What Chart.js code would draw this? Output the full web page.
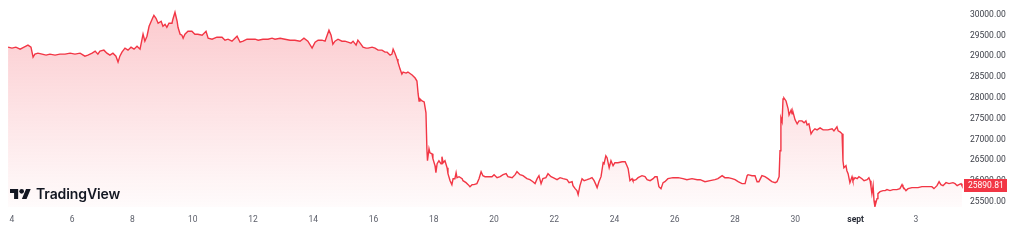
<!DOCTYPE html>
<html>
<head>
<meta charset="utf-8">
<title>BTC chart</title>
<script src="https://cdn.jsdelivr.net/npm/chart.js@4.4.0/dist/chart.umd.min.js"></script>
<style>
  html,body{margin:0;padding:0;background:#fff;overflow:hidden}
  #wrap{position:relative;width:1024px;height:243px}
  #logo{position:absolute;left:10px;top:187px;display:flex;align-items:center;gap:5px;
    font-family:Inter,"Noto Sans",sans-serif;font-weight:600;font-size:14px;line-height:14px;color:#131722;letter-spacing:-0.1px}
  #logo svg{display:block}
</style>
</head>
<body>
<div id="wrap">
  <canvas id="c" width="1024" height="243"></canvas>
  <div id="logo">
    <svg width="21" height="10.5" viewBox="0 4 36 18"><path fill="#131722" d="M14 22H7V11H0V4h14v18zM28 22h-8l7.5-18h8L28 22z"/><circle fill="#131722" cx="20" cy="8" r="4"/></svg>
    <span>TradingView</span>
  </div>
</div>
<script>
// time in days of August (32 = 1 sept), close price
const times = [
  3.87,4.00,4.13,4.27,4.40,4.53,4.63,4.70,4.76,4.86,5.00,5.13,5.26,5.43,5.59,5.76,5.93,6.09,6.26,6.42,
  6.52,6.66,6.76,6.85,6.92,7.05,7.15,7.25,7.35,7.45,7.52,7.58,7.65,7.75,7.85,7.95,8.05,8.15,8.25,8.35,
  8.41,8.48,8.55,8.65,8.71,8.78,8.85,8.95,9.01,9.08,9.14,9.21,9.31,9.34,9.41,9.48,9.51,9.58,9.64,9.68,
  9.74,9.84,9.97,10.07,10.17,10.31,10.44,10.51,10.64,10.80,10.97,11.07,11.17,11.30,11.40,11.47,11.57,11.67,11.80,11.97,
  12.07,12.17,12.33,12.50,12.63,12.73,12.90,13.06,13.23,13.39,13.56,13.69,13.82,13.96,14.06,14.16,14.29,14.39,14.46,14.52,
  14.59,14.65,14.72,14.82,14.95,15.05,15.15,15.25,15.32,15.42,15.48,15.58,15.65,15.75,15.82,15.95,16.05,16.15,16.28,16.38,
  16.45,16.55,16.61,16.65,16.71,16.78,16.81,16.88,16.94,16.98,17.08,17.14,17.28,17.38,17.44,17.48,17.51,17.54,17.61,17.68,
  17.74,17.77,17.79,17.84,17.87,17.94,17.97,18.04,18.07,18.11,18.17,18.24,18.27,18.31,18.37,18.44,18.47,18.54,18.60,18.64,
  18.70,18.74,18.77,18.84,18.94,18.97,19.07,19.14,19.20,19.27,19.33,19.43,19.50,19.57,19.63,19.70,19.80,19.93,20.00,20.10,
  20.20,20.30,20.40,20.46,20.60,20.70,20.76,20.86,20.96,21.09,21.19,21.29,21.36,21.43,21.49,21.56,21.62,21.72,21.79,21.89,
  21.96,22.09,22.19,22.29,22.42,22.49,22.59,22.62,22.69,22.75,22.79,22.85,22.92,22.99,23.09,23.18,23.25,23.32,23.38,23.42,
  23.48,23.55,23.62,23.65,23.71,23.75,23.82,23.88,23.95,24.01,24.11,24.25,24.35,24.41,24.45,24.51,24.58,24.61,24.71,24.78,
  24.91,25.01,25.08,25.18,25.28,25.34,25.41,25.47,25.54,25.61,25.67,25.77,25.94,26.11,26.27,26.40,26.57,26.74,26.84,27.00,
  27.17,27.33,27.43,27.57,27.66,27.77,27.90,28.00,28.10,28.23,28.33,28.40,28.43,28.56,28.66,28.73,28.79,28.89,28.99,29.09,
  29.22,29.33,29.39,29.46,29.49,29.52,29.56,29.59,29.62,29.69,29.72,29.76,29.79,29.86,29.89,29.92,29.99,30.06,30.12,30.22,
  30.29,30.35,30.39,30.45,30.52,30.58,30.65,30.72,30.82,30.92,30.98,31.08,31.22,31.28,31.38,31.42,31.48,31.55,31.58,31.61,
  31.68,31.71,31.75,31.81,31.88,31.91,31.98,32.05,32.11,32.21,32.28,32.38,32.44,32.48,32.51,32.54,32.58,32.61,32.64,32.71,
  32.74,32.81,32.91,32.98,33.04,33.14,33.24,33.37,33.47,33.54,33.57,33.67,33.74,33.87,33.97,34.07,34.20,34.30,34.40,34.53,
  34.60,34.70,34.77,34.83,34.90,35.00,35.10,35.23,35.30,35.37,35.43,35.50,35.53
];
const prices = [
  29218,29194,29218,29170,29218,29266,29218,28979,29050,29074,29050,29026,29050,29026,29050,29050,29074,29050,29074,29002,
  29026,29074,29122,29050,29122,29146,29074,29026,29074,29002,28859,29002,29098,29194,29146,29218,29170,29242,29170,29529,
  29361,29481,29720,29887,29983,29911,29792,29840,29720,29768,29696,29792,29792,29887,30055,29840,29696,29529,29505,29433,
  29529,29600,29600,29529,29529,29505,29600,29433,29409,29457,29457,29385,29409,29361,29433,29481,29337,29361,29409,29409,
  29409,29385,29409,29409,29433,29409,29433,29409,29385,29385,29361,29433,29361,29194,29337,29385,29385,29361,29505,29624,
  29505,29289,29361,29409,29361,29361,29337,29313,29361,29266,29385,29289,29218,29194,29194,29218,29194,29146,29146,29098,
  29098,29026,29050,29170,29074,28931,28859,28691,28572,28620,28596,28620,28548,28476,28404,28094,27926,27974,27926,27902,
  27639,26778,26491,26778,26682,26658,26539,26371,26204,26419,26491,26419,26587,26443,26491,26323,26180,26012,25917,26060,
  26060,26204,26084,26108,26060,26012,25965,25917,25869,25917,25917,25941,26060,26228,26132,26108,26108,26108,26156,26084,
  26108,26156,26180,26108,26084,26156,26228,26156,26132,26060,26036,25988,25941,26060,26132,25941,26060,26084,26180,26108,
  26084,26036,26084,26060,26036,25965,25988,25893,25821,25773,25677,25893,26060,26012,26036,26060,26084,26012,25917,25845,
  25988,26108,26443,26419,26610,26563,26323,26491,26371,26443,26443,26467,26467,26371,26299,26012,26060,26012,26036,26084,
  26132,26108,26036,26012,26060,26108,26108,25869,25821,25965,25988,26060,26084,26084,26060,26036,26060,26036,26036,25988,
  26012,26036,26060,26132,26084,26084,26060,26036,25988,25941,25941,26132,26156,26132,26132,25988,25988,26132,26108,26060,
  25988,25965,25988,26108,26730,27519,27424,27974,27998,27926,27926,27735,27591,27711,27615,27663,27472,27376,27448,27448,
  27400,27448,27352,27376,27137,27208,27256,27232,27280,27232,27232,27232,27256,27208,27304,27208,27185,27137,26491,26323,
  26371,26252,26180,25965,26108,26012,26084,26060,26108,26060,26012,26036,26084,26012,25869,25701,25893,25534,25390,25582,
  25701,25749,25773,25773,25797,25773,25797,25797,25821,25917,25869,25773,25821,25845,25845,25845,25869,25869,25869,25869,
  25821,25893,25988,25917,25893,25965,25941,25965,25941,25893,25917,25941,25890.81
];
const dayTicks = [4,6,8,10,12,14,16,18,20,22,24,26,28,30,32,34];
const priceTicks = [25500,26000,26500,27000,27500,28000,28500,29000,29500,30000];

const RED = '#F23645';
const FONT = 'Roboto, "Noto Sans", sans-serif';

function dayLabel(v){
  if(v === 32) return 'sept';
  if(v > 32) return String(v - 31);
  return String(v);
}

const lastPrice = {
  id: 'lastPrice',
  afterDraw(chart){
    const ctx = chart.ctx, y = chart.scales.y;
    const v = prices[prices.length - 1];
    const py = Math.round(y.getPixelForValue(v));
    const x0 = chart.chartArea.right - 1;
    ctx.save();
    ctx.fillStyle = RED;
    ctx.fillRect(x0, py - 7, 43, 13);
    ctx.fillStyle = '#fff';
    ctx.font = '8.5px ' + FONT;
    ctx.textBaseline = 'middle';
    ctx.fillText(v.toFixed(2), x0 + 4, py - 0.5);
    ctx.restore();
  }
};

const points = times.map((t, i) => ({x: t, y: prices[i]}));

new Chart(document.getElementById('c'), {
  type: 'line',
  data: {
    datasets: [{
      data: points,
      borderColor: RED,
      borderWidth: 1.4,
      pointRadius: 0,
      tension: 0,
      fill: 'start',
      backgroundColor(ctx){
        const a = ctx.chart.chartArea;
        if(!a) return 'rgba(242,54,69,0.15)';
        const g = ctx.chart.ctx.createLinearGradient(0, a.top, 0, a.bottom);
        g.addColorStop(0, 'rgba(242,54,69,0.28)');
        g.addColorStop(1, 'rgba(242,54,69,0.02)');
        return g;
      }
    }]
  },
  options: {
    responsive: false,
    animation: false,
    devicePixelRatio: 1,
    layout: {padding: 0},
    plugins: {legend: {display: false}, tooltip: {enabled: false}},
    scales: {
      x: {
        type: 'linear',
        min: 3.602,
        max: 35.63,
        border: {display: false},
        grid: {display: false, drawTicks: false},
        afterBuildTicks(s){ s.ticks = dayTicks.map(v => ({value: v})); },
        afterFit(s){ s.height = 36; s.paddingLeft = 0; s.paddingRight = 0; },
        ticks: {
          padding: 8,
          maxRotation: 0,
          autoSkip: false,
          color: ctx => ctx.tick && ctx.tick.value === 32 ? '#2a2e39' : '#5d606b',
          font: ctx => ({family: FONT, size: 8.5, weight: ctx.tick && ctx.tick.value === 32 ? 'bold' : 'normal'}),
          callback: v => dayLabel(v)
        }
      },
      y: {
        position: 'right',
        min: 25380,
        max: 30350,
        border: {display: false},
        grid: {display: false, drawTicks: false},
        afterBuildTicks(s){ s.ticks = priceTicks.map(v => ({value: v})); },
        afterFit(s){ s.width = 59; s.paddingTop = 0; s.paddingBottom = 0; },
        ticks: {
          padding: 5,
          color: '#3b3e47',
          font: {family: FONT, size: 8.5},
          callback: v => v.toFixed(2)
        }
      }
    }
  },
  plugins: [lastPrice]
});
</script>
</body>
</html>
